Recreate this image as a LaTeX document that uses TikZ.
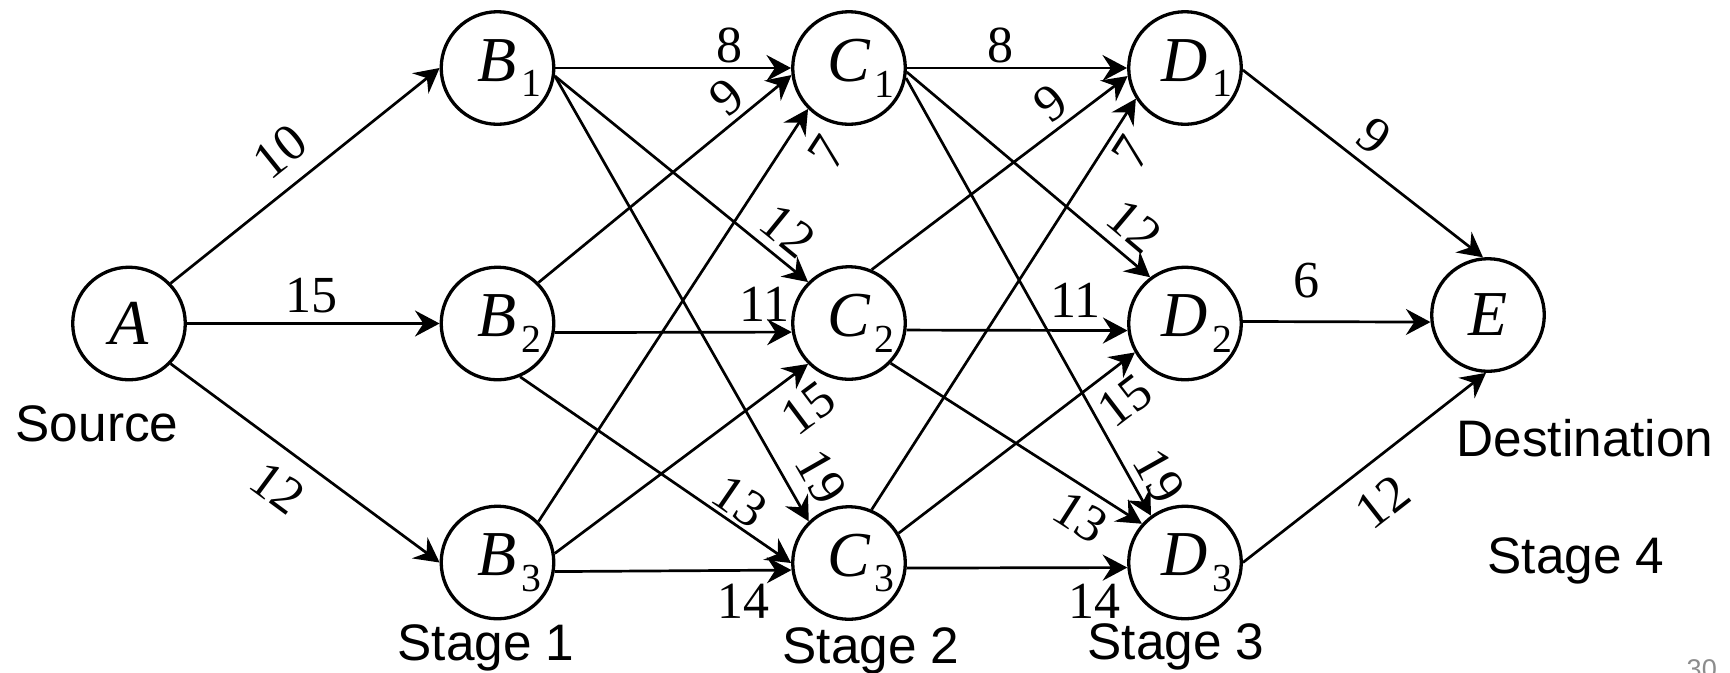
\documentclass[tikz,border=0pt]{standalone}
\usepackage{fontspec}
\setmainfont{Liberation Serif}
\newfontfamily\lblsans{Liberation Sans}
\usetikzlibrary{arrows.meta}

% stage node letter with a lowered index that does not shift the letter
\newcommand\stnode[2]{\textit{#1}\rlap{\kern1.2pt\raisebox{-4.5pt}{\fontsize{11.3pt}{12pt}\selectfont #2}}}

\tikzset{
  state/.style={circle, draw, line width=3.3*0.2845pt, minimum size=1.125cm,
                inner sep=0pt, font=\fontsize{18.2pt}{19pt}\selectfont},
  edge/.style={line width=2.7*0.2845pt,
               -{Stealth[length=7pt, width=7.4pt, inset=2.4pt]}},
  wt/.style={font=\fontsize{14.8pt}{16pt}\selectfont, inner sep=0pt, sloped},
  wup/.style={wt, anchor=south, outer ysep=#1*0.2845pt},
  wdn/.style={wt, anchor=north, outer ysep=#1*0.2845pt},
  stagetxt/.style={font=\lblsans\fontsize{14.6pt}{16pt}\selectfont,
                   inner sep=0pt, anchor=base},
}

\begin{document}
\begin{tikzpicture}[x=0.01cm, y=-0.01cm]
  \useasboundingbox (0,0) rectangle (1730,672);
  \clip (0,0) rectangle (1730,672);
  \fill[white] (0,0) rectangle (1730,672);

  % states
  \node[state] (A)  at (129,323.5)  {\textit{A}};
  \node[state] (B1) at (497.5,68)    {\stnode{B}{1}};
  \node[state] (B2) at (497.5,323.5) {\stnode{B}{2}};
  \node[state] (B3) at (497.5,562.5) {\stnode{B}{3}};
  \node[state] (C1) at (849,68)      {\stnode{C}{1}};
  \node[state] (C2) at (849,323)     {\stnode{C}{2}};
  \node[state] (C3) at (849,563)     {\stnode{C}{3}};
  \node[state] (D1) at (1185,68)     {\stnode{D}{1}};
  \node[state] (D2) at (1185,323.5)  {\stnode{D}{2}};
  \node[state] (D3) at (1185,562.5)  {\stnode{D}{3}};
  \node[state] (E)  at (1488,315)    {\textit{E}};

  % source to stage 1
  \draw[edge] (A.44)   -- (B1.180) node[wup=17, pos=.486] (wAB1) {10};
  \draw[edge] (A.east) -- (B2.west) node[wup=10, pos=.494] (wAB2) {15};
  \draw[edge] (A.-44)  -- (B3.180) node[wdn=19, pos=.478] (wAB3) {12};

  % stage 1 to stage 2
  \draw[edge] (B1.east) -- (C1.west) node[wup=5,  pos=.738] (wB1C1) {8};
  \draw[edge] (B1.-8)   -- (C2.135)  node[wup=10, pos=.853] (wB1C2) {12};
  \draw[edge] (B1.-8)   -- (C3.134)  node[wup=15, pos=.937] (wB1C3) {19};
  \draw[edge] (B2.45)   -- (C1.187)  node[wup=6,  pos=.805] (wB2C1) {9};
  \draw[edge] (B2.-9)   -- (C2.189)  node[wup=11, pos=.884] (wB2C2) {11};
  \draw[edge] (B2.-67)  -- (C3.180)  node[wup=4,  pos=.766] (wB2C3) {13};
  \draw[edge] (B3.45)   -- (C1.225)  node[wdn=23, pos=.949] (wB3C1) {7};
  \draw[edge] (B3.9)    -- (C2.225)  node[wdn=18, pos=.918] (wB3C2) {15};
  \draw[edge] (B3.-9)   -- (C3.187)  node[wdn=14, pos=.796] (wB3C3) {14};

  % stage 2 to stage 3
  \draw[edge] (C1.east) -- (D1.west) node[wup=5,  pos=.426] (wC1D1) {8};
  \draw[edge] (C1.-4)   -- (D2.127)  node[wup=12, pos=.86]  (wC1D2) {12};
  \draw[edge] (C1.-10)  -- (D3.126)  node[wup=9,  pos=.939] (wC1D3) {19};
  \draw[edge] (C2.67)   -- (D1.188)  node[wup=7,  pos=.757] (wC2D1) {9};
  \draw[edge] (C2.-7)   -- (D2.187)  node[wup=13, pos=.764] (wC2D2) {11};
  \draw[edge] (C2.-44)  -- (D3.138)  node[wdn=10, pos=.813] (wC2D3) {13};
  \draw[edge] (C3.67)   -- (D1.212)  node[wdn=8,  pos=.902] (wC3D1) {7};
  \draw[edge] (C3.31)   -- (D2.210)  node[wdn=15, pos=.876] (wC3D2) {15};
  \draw[edge] (C3.-5)   -- (D3.185)  node[wdn=16, pos=.849] (wC3D3) {14};

  % stage 3 to destination
  \draw[edge] (D1.-2)   -- (E.95)  node[wup=11, pos=.472] (wD1E) {9};
  \draw[edge] (D2.2)    -- (E.187) node[wup=24, pos=.34]  (wD2E) {6};
  \draw[edge] (D3.east) -- (E.268) node[wdn=21, pos=.477] (wD3E) {12};

  % captions
  \node[stagetxt] (tsrc) at (97,441)    {Source};
  \node[stagetxt] (ts1)  at (486,660)   {Stage 1};
  \node[stagetxt] (ts2)  at (871,663)   {Stage 2};
  \node[stagetxt] (ts3)  at (1176,659)  {Stage 3};
  \node[stagetxt] (tdst) at (1585,456.5){Destination};
  \node[stagetxt] (ts4)  at (1576,573)  {Stage 4};
  \node[font=\lblsans\fontsize{7.7pt}{8pt}\selectfont, text=black!45,
        inner sep=0pt, anchor=base west] (pgno) at (1686,678) {30};
\end{tikzpicture}
\end{document}
